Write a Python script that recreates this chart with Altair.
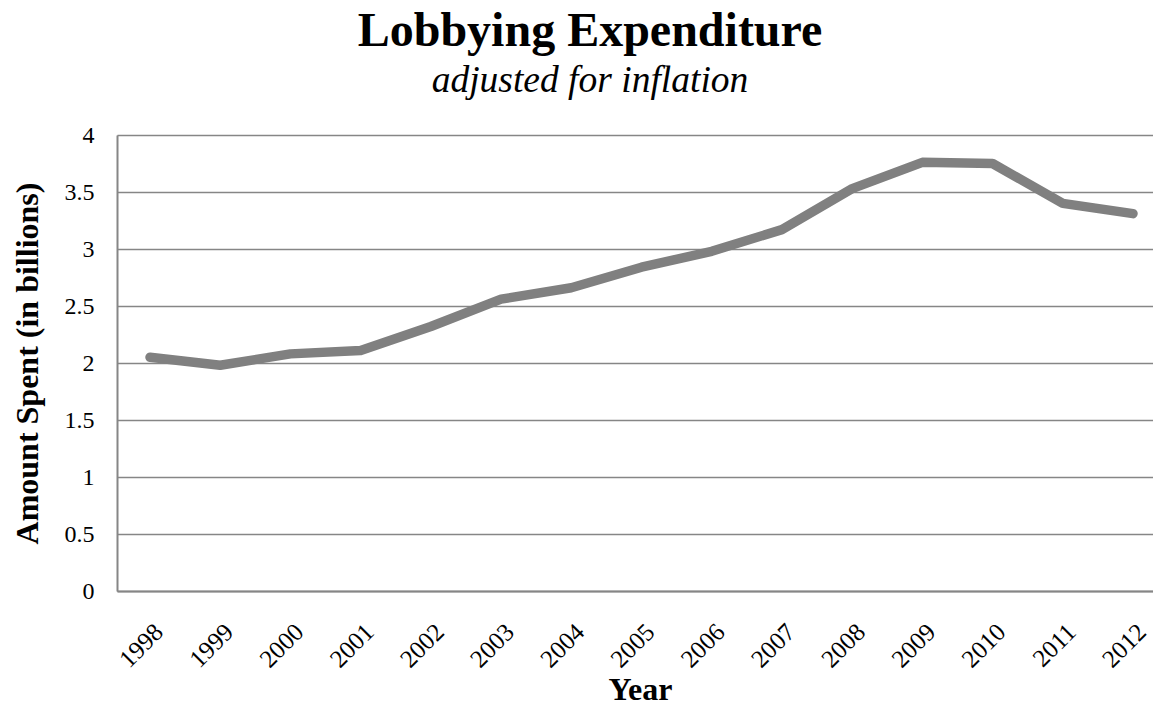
import altair as alt
import pandas as pd

years = [1998, 1999, 2000, 2001, 2002, 2003, 2004, 2005, 2006, 2007, 2008, 2009, 2010, 2011, 2012]
amounts = [2.05, 1.98, 2.08, 2.11, 2.32, 2.56, 2.66, 2.84, 2.98, 3.17, 3.53, 3.76, 3.75, 3.40, 3.31]
y_ticks = [0, 0.5, 1, 1.5, 2, 2.5, 3, 3.5, 4]

df = pd.DataFrame({"Year": years, "Amount": amounts})

FONT = "Liberation Serif"

chart = alt.Chart(df).mark_line(
    color="#808080", strokeWidth=9.5, strokeCap="round", strokeJoin="round"
).encode(
    x=alt.X("Year:Q",
            scale=alt.Scale(domain=[1997.53, 2012.285], nice=False, zero=False),
            axis=alt.Axis(values=years, format="d", labelAngle=-45, grid=False,
                          ticks=False, labelFontSize=25, labelFont=FONT, labelColor="black",
                          labelPadding=28, domainColor="#868686", domainWidth=2,
                          title="Year", titleFont=FONT, titleFontSize=32, titleFontWeight="bold",
                          titleColor="black", titleX=523, titleY=108,
                          titleBaseline="alphabetic")),
    y=alt.Y("Amount:Q",
            scale=alt.Scale(domain=[0, 4], nice=False),
            axis=alt.Axis(values=y_ticks, format="~g", grid=True, gridColor="#868686", gridWidth=1.6,
                          ticks=False, labelFontSize=24, labelFont=FONT, labelColor="black",
                          labelPadding=23, domainColor="#868686", domainWidth=2,
                          title="Amount Spent (in billions)", titleFont=FONT, titleFontSize=32,
                          titleFontWeight="bold", titleColor="black", titlePadding=20)),
).properties(
    width=1036,
    height=456,
    title=alt.TitleParams(
        text="Lobbying Expenditure",
        subtitle="adjusted for inflation",
        font=FONT, fontSize=48, fontWeight="bold", color="black",
        subtitleFont=FONT, subtitleFontSize=37.5, subtitleFontStyle="italic",
        subtitleColor="black", subtitlePadding=5.5,
        anchor="middle", dx=-45, offset=24,
    ),
    autosize=alt.AutoSizeParams(type="none"),
    padding={"left": 117, "top": 135, "right": 0, "bottom": 124},
).configure_view(stroke=None).configure(background="white")

chart.save("out.html", embed_options={"renderer": "svg", "actions": False})
